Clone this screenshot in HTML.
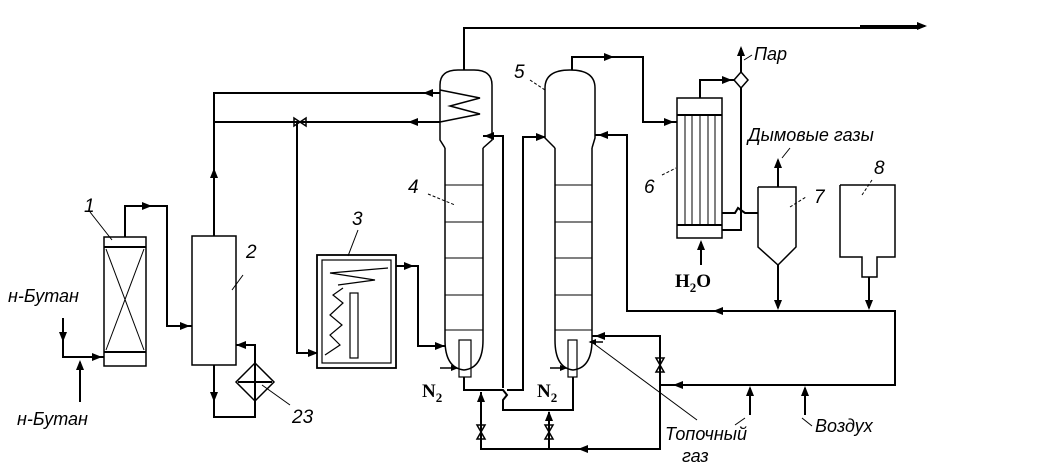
<!DOCTYPE html>
<html><head><meta charset="utf-8"><style>
html,body{margin:0;padding:0;background:#fff;}
svg{display:block}
text{font-family:"Liberation Sans","DejaVu Sans",sans-serif;font-style:italic;fill:#000}
.b{font-family:"Liberation Serif",serif;font-style:normal;font-weight:bold}
</style></head><body>
<svg width="1059" height="472" viewBox="0 0 1059 472" xmlns="http://www.w3.org/2000/svg">
<defs><marker id="a" viewBox="0 0 10 10" refX="8" refY="5" markerWidth="6" markerHeight="5" orient="auto"><path d="M0,1 L10,5 L0,9 Z" fill="#000"/></marker></defs>
<g fill="none" stroke="#000" stroke-width="2">
<!-- reactor 1 -->
<rect x="104" y="237" width="42" height="129" stroke-width="1.5"/>
<line x1="104" y1="247" x2="146" y2="247"/><line x1="104" y1="352" x2="146" y2="352"/>
<line x1="106" y1="249" x2="144" y2="350" stroke-width="1"/><line x1="144" y1="249" x2="106" y2="350" stroke-width="1"/>
<line x1="90" y1="212" x2="112" y2="240" stroke-width="1"/>
<polyline points="125,237 125,206 167,206 167,326 192,326" />
<line x1="125" y1="206" x2="150" y2="206" marker-end="url(#a)"/>
<line x1="167" y1="326" x2="188" y2="326" marker-end="url(#a)"/>
<polyline points="63,318 63,357 104,357"/>
<line x1="63" y1="318" x2="63" y2="340" marker-end="url(#a)"/>
<line x1="80" y1="357" x2="100" y2="357" marker-end="url(#a)"/>
<line x1="80" y1="402" x2="80" y2="362" marker-end="url(#a)"/>
<!-- 2 -->
<rect x="192" y="236" width="44" height="129" stroke-width="1.5"/>
<line x1="232" y1="290" x2="243" y2="275" stroke-width="1"/>
<polyline points="214,236 214,93 440,93"/>
<line x1="214" y1="190" x2="214" y2="170" marker-end="url(#a)"/>
<polyline points="214,122 440,122"/>
<line x1="440" y1="93" x2="425" y2="93" marker-end="url(#a)"/>
<line x1="440" y1="122" x2="410" y2="122" marker-end="url(#a)"/>
<polygon points="294,118 294,126 306,118 306,126" stroke-width="1.5"/>
<polyline points="297,122 297,353 317,353"/>
<line x1="300" y1="353" x2="316" y2="353" marker-end="url(#a)"/>
<polyline points="214,365 214,417 255,417 255,345 236,345"/>
<line x1="214" y1="380" x2="214" y2="400" marker-end="url(#a)"/>
<line x1="250" y1="345" x2="238" y2="345" marker-end="url(#a)"/>
<polygon points="255,363 274,382 255,401 236,382" stroke-width="1.5"/>
<line x1="238" y1="382" x2="272" y2="382"/>
<line x1="262" y1="385" x2="290" y2="405" stroke-width="1"/>
<!-- 3 -->
<rect x="317" y="255" width="79" height="113" stroke-width="1.8"/>
<rect x="322" y="260" width="69" height="103" stroke-width="1.2"/>
<line x1="358" y1="230" x2="348" y2="256" stroke-width="1"/>
<polyline points="388,268 330,273 375,280 338,285" stroke-width="1.2"/>
<polyline points="325,355 340,345 330,335 342,325 330,315 343,303 333,295 343,288" stroke-width="1.2"/>
<rect x="350" y="293" width="8" height="65" stroke-width="1.2"/>
<polyline points="396,266 418,266 418,346 445,346"/>
<line x1="398" y1="266" x2="412" y2="266" marker-end="url(#a)"/>
<line x1="425" y1="346" x2="443" y2="346" marker-end="url(#a)"/>
<!-- column 4 -->
<path d="M445,148 L440,140 L440,85 Q440,70 458,70 L474,70 Q492,70 492,85 L492,140 L483,148" stroke-width="1.5"/>
<path d="M445,148 L445,340 Q445,368 464,370 Q483,368 483,340 L483,148" stroke-width="1.5"/>
<line x1="445" y1="148" x2="483" y2="148" stroke-width="0" />
<g stroke-width="1"><line x1="445" y1="185" x2="483" y2="185"/><line x1="445" y1="222" x2="483" y2="222"/><line x1="445" y1="258" x2="483" y2="258"/><line x1="445" y1="295" x2="483" y2="295"/><line x1="445" y1="330" x2="483" y2="330"/></g>
<polyline points="440,90 480,98 450,106 480,114 440,122" stroke-width="1.5"/>
<rect x="459" y="340" width="12" height="37" stroke-width="1.2"/>
<line x1="440" y1="368" x2="457" y2="368" stroke-width="1.5" marker-end="url(#a)"/>
<polyline points="464,70 464,28 920,28"/>
<line x1="860" y1="26" x2="925" y2="26" marker-end="url(#a)"/>
<line x1="428" y1="194" x2="455" y2="205" stroke-width="1" stroke-dasharray="3,2"/>
<!-- riser lines -->
<polyline points="483,136 503,136 503,388"/>
<line x1="490" y1="136" x2="486" y2="136" marker-end="url(#a)"/>
<polyline points="464,377 464,390 503,390 507,395 503,400 503,410 573,410 573,377"/>
<polyline points="507,390 523,390 523,137 545,137"/>
<line x1="528" y1="137" x2="544" y2="137" marker-end="url(#a)"/>
<!-- column 5 -->
<path d="M555,148 L545,138 L545,88 Q545,70 570,70 Q595,70 595,88 L595,138 L592,148" stroke-width="1.5"/>
<path d="M555,148 L555,340 Q555,368 573,370 Q592,368 592,340 L592,148" stroke-width="1.5"/>
<g stroke-width="1"><line x1="555" y1="185" x2="592" y2="185"/><line x1="555" y1="222" x2="592" y2="222"/><line x1="555" y1="258" x2="592" y2="258"/><line x1="555" y1="295" x2="592" y2="295"/><line x1="555" y1="330" x2="592" y2="330"/></g>
<rect x="568" y="340" width="9" height="37" stroke-width="1.2"/>
<line x1="550" y1="368" x2="566" y2="368" stroke-width="1.5" marker-end="url(#a)"/>
<line x1="530" y1="80" x2="545" y2="90" stroke-width="1" stroke-dasharray="3,2"/>
<polyline points="572,70 572,57 643,57 643,122 677,122"/>
<line x1="595" y1="57" x2="612" y2="57" marker-end="url(#a)"/>
<line x1="650" y1="122" x2="672" y2="122" marker-end="url(#a)"/>
<!-- 6 -->
<rect x="677" y="98" width="45" height="140" stroke-width="1.5"/>
<line x1="677" y1="115" x2="722" y2="115"/><line x1="677" y1="225" x2="722" y2="225"/>
<g stroke-width="1"><line x1="685" y1="115" x2="685" y2="225"/><line x1="692" y1="115" x2="692" y2="225"/><line x1="700" y1="115" x2="700" y2="225"/><line x1="708" y1="115" x2="708" y2="225"/><line x1="715" y1="115" x2="715" y2="225"/></g>
<line x1="662" y1="175" x2="676" y2="168" stroke-width="1" stroke-dasharray="3,2"/>
<polyline points="700,98 700,80 735,80"/>
<line x1="705" y1="80" x2="730" y2="80" marker-end="url(#a)"/>
<polygon points="741,72 748,80 741,88 734,80" stroke-width="1.5"/>
<line x1="741" y1="72" x2="741" y2="48" marker-end="url(#a)"/>
<line x1="744" y1="60" x2="752" y2="55" stroke-width="1"/>
<polyline points="741,88 741,230 722,230"/>
<polyline points="722,213 735,213 738,208 745,213 758,213"/>
<line x1="701" y1="265" x2="701" y2="242" marker-end="url(#a)"/>
<!-- 7 -->
<polyline points="758,187 796,187 796,247 778,265 758,247 758,187" stroke-width="1.5"/>
<line x1="778" y1="187" x2="778" y2="160" marker-end="url(#a)"/>
<line x1="782" y1="158" x2="790" y2="148" stroke-width="1"/>
<line x1="790" y1="207" x2="806" y2="197" stroke-width="1" stroke-dasharray="3,2"/>
<line x1="778" y1="265" x2="778" y2="308" marker-end="url(#a)"/>
<!-- 8 -->
<polyline points="840,185 895,185 895,257 877,257 877,277 862,277 862,257 840,257 840,185" stroke-width="1.5"/>
<line x1="869" y1="277" x2="869" y2="308" marker-end="url(#a)"/>
<line x1="862" y1="195" x2="872" y2="180" stroke-width="1" stroke-dasharray="3,2"/>
<!-- bottom loop -->
<polyline points="595,135 627,135 627,311 895,311 895,385 660,385"/>
<line x1="627" y1="135" x2="600" y2="135" marker-end="url(#a)"/>
<line x1="735" y1="311" x2="715" y2="311" marker-end="url(#a)"/>
<line x1="700" y1="385" x2="675" y2="385" marker-end="url(#a)"/>
<line x1="750" y1="415" x2="750" y2="388" marker-end="url(#a)"/>
<line x1="805" y1="415" x2="805" y2="388" marker-end="url(#a)"/>
<line x1="745" y1="418" x2="735" y2="425" stroke-width="1"/>
<line x1="802" y1="418" x2="812" y2="426" stroke-width="1"/>
<polyline points="592,336 660,336 660,449 481,449 481,392"/>
<line x1="620" y1="336" x2="597" y2="336" marker-end="url(#a)"/>
<line x1="481" y1="412" x2="481" y2="394" marker-end="url(#a)"/>
<polyline points="549,449 549,412"/>
<line x1="549" y1="425" x2="549" y2="413" marker-end="url(#a)"/>
<line x1="600" y1="449" x2="580" y2="449" marker-end="url(#a)"/>
<polygon points="656,358 664,358 656,372 664,372" stroke-width="1.5"/>
<polygon points="477,425 485,425 477,439 485,439" stroke-width="1.5"/>
<polygon points="545,425 553,425 545,439 553,439" stroke-width="1.5"/>
<line x1="593" y1="343" x2="697" y2="420" stroke-width="1"/>
<line x1="603" y1="342" x2="590" y2="342" stroke-width="1.5" marker-end="url(#a)"/>
</g>
<g font-size="19">
<text x="84" y="212">1</text><text x="246" y="258">2</text><text x="352" y="225">3</text>
<text x="408" y="193">4</text><text x="514" y="78">5</text><text x="644" y="193">6</text>
<text x="814" y="203">7</text><text x="874" y="174">8</text><text x="292" y="423">23</text>
<text x="8" y="302" font-size="18">н-Бутан</text><text x="17" y="425" font-size="18">н-Бутан</text>
<text x="754" y="60" font-size="18">Пар</text>
<text x="748" y="141" font-size="18">Дымовые газы</text>
<text x="665" y="440" font-size="18">Топочный</text><text x="682" y="462" font-size="18">газ</text>
<text x="815" y="432" font-size="18">Воздух</text>
</g>
<text class="b" x="675" y="287" font-size="19">H<tspan font-size="13" dy="5">2</tspan><tspan dy="-5">O</tspan></text>
<text class="b" x="422" y="397" font-size="19">N<tspan font-size="13" dy="5">2</tspan></text>
<text class="b" x="537" y="397" font-size="19">N<tspan font-size="13" dy="5">2</tspan></text>
</svg>
</body></html>
